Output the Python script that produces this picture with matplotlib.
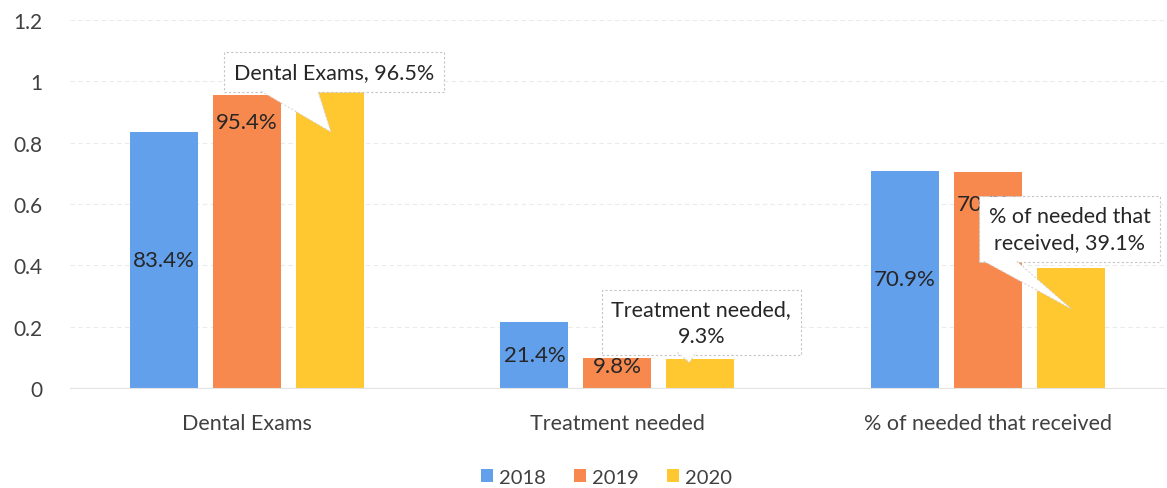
import numpy as np
import matplotlib.pyplot as plt
import matplotlib.transforms as mtransforms
from matplotlib.patches import Polygon

plt.rcParams['font.family'] = ['Lato', 'DejaVu Sans']

categories = ["Dental Exams", "Treatment needed", "% of needed that received"]
years = ["2018", "2019", "2020"]
vals_2018 = [0.834, 0.214, 0.709]
vals_2019 = [0.954, 0.098, 0.705]
vals_2020 = [0.965, 0.093, 0.391]
labels_2018 = ["83.4%", "21.4%", "70.9%"]
labels_2019 = ["95.4%", "9.8%", "70.5%"]
callouts_2020 = ["Dental Exams, 96.5%", "Treatment needed,\n9.3%", "% of needed that\nreceived, 39.1%"]
yticks = [0, 0.2, 0.4, 0.6, 0.8, 1, 1.2]
ytick_labels = ["0", "0.2", "0.4", "0.6", "0.8", "1", "1.2"]

colors = ["#63a0ec", "#f7894e", "#ffc730"]
txt = "#262626"

fig = plt.figure(figsize=(11.67, 4.89), dpi=100)
ax = fig.add_axes([0.06, 0.2045, 0.938, 0.7525])
ax.set_xlim(-0.478, 2.478)
ax.set_ylim(0, 1.2)

x = np.arange(len(categories))
step = 0.224
width = 0.184
series = [vals_2018, vals_2019, vals_2020]
for i, (vals, c, yr) in enumerate(zip(series, colors, years)):
    ax.bar(x + (i - 1) * step, vals, width, color=c, label=yr, zorder=2)

# data labels: 2018 centred, 2019 inside end (last one sits under the callout)
for j, (v, lab) in enumerate(zip(vals_2018, labels_2018)):
    ax.text(x[j] - step, v / 2, lab, ha="center", va="center",
            fontsize=16, color=txt, zorder=3)
drops = [-27, -8, -32]
for j, (v, lab) in enumerate(zip(vals_2019, labels_2019)):
    ax.annotate(lab, (x[j], v), xytext=(0, drops[j]), textcoords="offset pixels",
                ha="center", va="center", fontsize=16, color=txt, zorder=3)

# callouts on 2020 bars (pixel offsets from the bar-top centre)
box_off = [(4, 20), (1, 37), (-1, 39)]
pointers = [
    [(-69, 1), (1, -40), (-12, 1)],
    [(-23, 7), (-11, -3), (-4, 7)],
    [(-87, 7), (1, -41), (-54, 7)],
]
for j, (v, lab) in enumerate(zip(vals_2020, callouts_2020)):
    anchor = (x[j] + step, v)
    ax.annotate(lab, anchor, xytext=box_off[j], textcoords="offset pixels",
                ha="center", va="center", fontsize=15.5, color=txt,
                linespacing=1.4, zorder=5,
                bbox=dict(boxstyle="square,pad=0.45", fc="white", ec="#c4c4c4",
                          lw=0.8, ls=(0, (2, 2))))
    tr = mtransforms.IdentityTransform() + mtransforms.ScaledTranslation(
        anchor[0], anchor[1], ax.transData)
    ax.add_patch(Polygon(pointers[j], closed=True, transform=tr, fc="white",
                         ec="none", zorder=6, clip_on=False))
    ax.plot([p[0] for p in pointers[j]], [p[1] for p in pointers[j]],
            transform=tr, color="#d0d0d0", lw=0.7, ls=(0, (2, 2)), zorder=6,
            clip_on=False)

ax.set_yticks(yticks)
ax.set_yticklabels(ytick_labels)
ax.set_xticks(x)
ax.set_xticklabels(categories)
ax.tick_params(axis="both", length=0, colors="#404040")
ax.tick_params(axis="x", pad=18, labelsize=15.5)
ax.tick_params(axis="y", pad=20, labelsize=15)
ax.grid(True, axis="y", color="#ebebeb", lw=0.8, ls=(0, (4, 3)), zorder=0)
for s in ["top", "right", "left"]:
    ax.spines[s].set_visible(False)
ax.spines["bottom"].set_color("#e4e4e4")

ax.legend(loc="upper center", bbox_to_anchor=(0.49, -0.17), ncol=3, frameon=False,
          fontsize=14.5, handlelength=0.6, handleheight=0.6, handletextpad=0.3,
          columnspacing=1.4, labelcolor="#404040")

fig.savefig("out.png", dpi=100)
